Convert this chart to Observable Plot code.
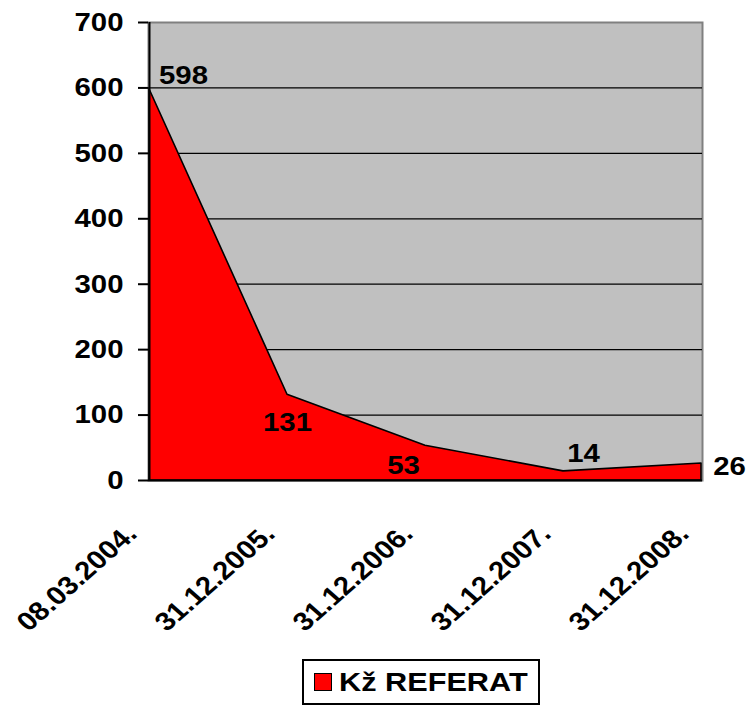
<!DOCTYPE html>
<html>
<head>
<meta charset="utf-8">
<script src="https://cdn.jsdelivr.net/npm/d3@7"></script>
<script src="https://cdn.jsdelivr.net/npm/@observablehq/plot@0.6"></script>
<style>
  html, body { margin: 0; padding: 0; background: #ffffff; }
  body { width: 751px; height: 707px; overflow: hidden; font-family: "Liberation Sans", Arial, sans-serif; }
  #legend {
    position: relative;
    margin-left: 302px;
    margin-top: 9px;
    width: 234px;
    height: 42px;
    border: 2px solid #000;
    display: flex;
    align-items: center;
    box-sizing: content-box;
  }
  #legend .sw {
    width: 16px; height: 16px; background: #ff0000; border: 1.5px solid #000;
    margin-left: 10px; flex: none;
  }
  #legend .lb {
    font-weight: bold; font-size: 26px; margin-left: 7px; white-space: nowrap;
    transform: scaleX(1.18); transform-origin: left center; color: #000;
  }
</style>
</head>
<body>
<div id="chart"></div>
<div id="legend"><span class="sw"></span><span class="lb">Kž REFERAT</span></div>
<script>
// ---- data ----
const categories = ["08.03.2004.", "31.12.2005.", "31.12.2006.", "31.12.2007.", "31.12.2008."];
const values = [598, 131, 53, 14, 26];
const yTicks = [0, 100, 200, 300, 400, 500, 600, 700];
const seriesName = "Kž REFERAT";

const data = categories.map((c, i) => ({cat: c, value: values[i]}));

// label placement offsets (style, not data)
const labelOffsets = [[34, -5], [0, 36], [-22, 28], [20, -9], [28, 12]];

const FONT = "Liberation Sans, Arial, sans-serif";
const SX = 1.13;

const chart = Plot.plot({
  width: 751,
  height: 650,
  marginLeft: 148,
  marginRight: 49,
  marginTop: 22,
  marginBottom: 170,
  style: {fontFamily: FONT, fontWeight: "bold", fontSize: "26px", color: "#000", background: "#fff"},
  x: {type: "point", domain: categories, padding: 0, axis: null},
  y: {domain: [0, 700], axis: null},
  marks: [
    Plot.frame({fill: "#C0C0C0", stroke: "#808080", strokeWidth: 2}),
    Plot.ruleY(yTicks.filter(d => d > 0 && d < 700), {stroke: "#000", strokeWidth: 1.3}),
    Plot.areaY(data, {x: "cat", y: "value", fill: "#ff0000", stroke: "#000", strokeWidth: 1.6}),
    Plot.ruleX([categories[0]], {stroke: "#000", strokeWidth: 2}),
    Plot.ruleY([0], {stroke: "#000", strokeWidth: 2}),
    Plot.axisY({ticks: yTicks, tickSize: 10, tickPadding: 15, tickFormat: d => String(d),
      label: null, fontSize: 26, fontWeight: "bold", stroke: "#000", strokeWidth: 2}),
    Plot.text(categories, {x: d => d, frameAnchor: "bottom", rotate: -45, textAnchor: "end",
      lineAnchor: "bottom", dx: -11, dy: 55, fontSize: 26, fontWeight: "bold", fill: "#000"}),
    ...labelOffsets.map(([dx, dy], i) =>
      Plot.text([data[i]], {x: "cat", y: "value", text: d => String(d.value), dx, dy,
        lineAnchor: "bottom", textAnchor: "middle", fontSize: 26, fontWeight: "bold", fill: "#000"}))
  ]
});

// widen glyphs horizontally (screen space) like the stretched original picture
chart.querySelectorAll("text").forEach(t => {
  const tr = t.getAttribute("transform");
  if (tr && /^translate\(/.test(tr)) {
    t.setAttribute("transform", tr.replace(/^(translate\([^)]*\))/, `$1 scale(${SX},1)`));
  } else {
    const x = +(t.getAttribute("x") || 0), y = +(t.getAttribute("y") || 0);
    t.removeAttribute("x"); t.removeAttribute("y");
    t.setAttribute("transform", `translate(${x},${y}) scale(${SX},1)` + (tr ? " " + tr : ""));
  }
});

document.getElementById("chart").appendChild(chart);
document.querySelector("#legend .lb").textContent = seriesName;
</script>
</body>
</html>
